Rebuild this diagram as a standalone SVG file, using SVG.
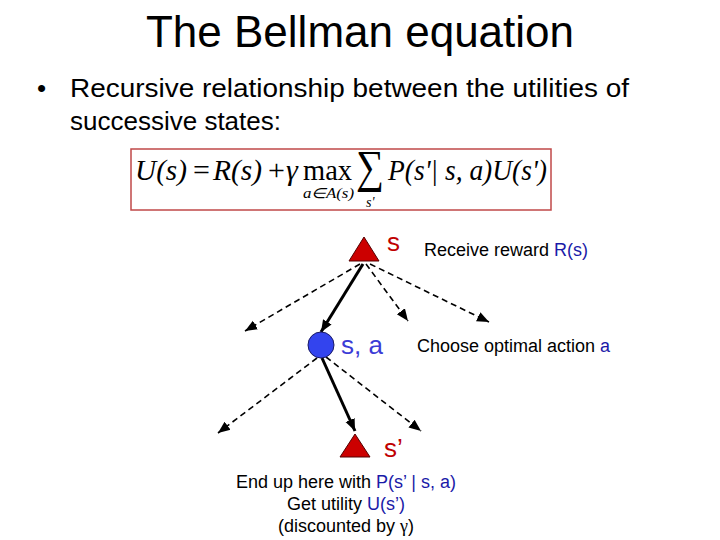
<svg xmlns="http://www.w3.org/2000/svg" width="720" height="540" viewBox="0 0 720 540">
<style>
.sans{font-family:"Liberation Sans",Arial,sans-serif}
.math{font-family:"Liberation Serif","Times New Roman",serif;font-style:italic}
.up{font-style:normal}
.blk{fill:#000}
.blu{fill:#1a1aa8}
.lblu{fill:#3b3bd6}
.red{fill:#c00000}
.dash{stroke:#000;stroke-width:1.6;stroke-dasharray:6,4;fill:none}
.solid{stroke:#000;stroke-width:3;fill:none}
.tri{fill:#cc0000;stroke:#550000;stroke-width:1}
</style>
<defs>
<marker id="ah" markerUnits="userSpaceOnUse" markerWidth="14" markerHeight="12" refX="12" refY="5" orient="auto" viewBox="0 0 14 10">
<path d="M0,0 L12,5 L0,10 Z" fill="#000"/>
</marker>
</defs>
<rect width="720" height="540" fill="#fff"/>

<g id="title">
<text class="sans blk" x="360" y="47" font-size="44" text-anchor="middle">The Bellman equation</text>
</g>
<g id="bullet">
<text class="sans blk" x="37" y="97" font-size="26">•</text>
<text class="sans blk" x="70" y="97" font-size="26" textLength="559" lengthAdjust="spacingAndGlyphs">Recursive relationship between the utilities of</text>
<text class="sans blk" x="70" y="130" font-size="26">successive states:</text>
</g>

<g id="formula">
<rect x="131" y="149" width="420" height="61" fill="#fff" stroke="#c04848" stroke-width="1.5"/>
<text class="math blk" x="135" y="180" font-size="30" textLength="52" lengthAdjust="spacingAndGlyphs">U(s)</text>
<text class="math up blk" x="193" y="180" font-size="30">=</text>
<text class="math blk" x="213" y="180" font-size="30" textLength="49" lengthAdjust="spacingAndGlyphs">R(s)</text>
<text class="math up blk" x="268" y="180" font-size="30">+</text>
<text class="math blk" x="286" y="180" font-size="30">γ</text>
<text class="math up blk" x="303" y="180" font-size="30" textLength="49" lengthAdjust="spacingAndGlyphs">max</text>
<text class="math blk" x="303" y="198" font-size="14" textLength="51" lengthAdjust="spacingAndGlyphs">a∈A(s)</text>
<text class="math up blk" x="356" y="182" font-size="46" textLength="28" lengthAdjust="spacingAndGlyphs">∑</text>
<text class="math blk" x="366" y="207" font-size="14">s'</text>
<text class="math blk" x="388" y="180" font-size="30" textLength="159" lengthAdjust="spacingAndGlyphs">P(s'| s, a)U(s')</text>
</g>

<g id="connectors">
<line class="dash" x1="360" y1="264" x2="245" y2="331" marker-end="url(#ah)"/>
<line class="dash" x1="366" y1="264" x2="408" y2="321" marker-end="url(#ah)"/>
<line class="dash" x1="370" y1="264" x2="489" y2="322" marker-end="url(#ah)"/>
<line class="solid" x1="363" y1="264" x2="321" y2="332" marker-end="url(#ah)"/>
<line class="dash" x1="317" y1="358" x2="218" y2="433" marker-end="url(#ah)"/>
<line class="dash" x1="326" y1="357" x2="421" y2="431" marker-end="url(#ah)"/>
<line class="solid" x1="322" y1="358" x2="355" y2="431" marker-end="url(#ah)"/>
</g>

<g id="node-s">
<polygon class="tri" points="364,237 349,261 379,261"/>
<text class="sans red" x="387" y="251" font-size="26">s</text>
</g>
<g id="node-sa">
<circle cx="321" cy="345" r="13" fill="#3344ee" stroke="#1a1a66" stroke-width="1"/>
<text class="sans lblu" x="341" y="354" font-size="26">s, a</text>
</g>
<g id="node-s2">
<polygon class="tri" points="355,434 340,457 370,457"/>
<text class="sans red" x="384" y="457" font-size="26">s’</text>
</g>

<g id="labels">
<text class="sans blk" x="424" y="256" font-size="18">Receive reward <tspan class="blu">R(s)</tspan></text>
<text class="sans blk" x="417" y="352" font-size="18">Choose optimal action <tspan class="blu">a</tspan></text>
<text class="sans blk" x="346" y="488" font-size="18" text-anchor="middle">End up here with <tspan class="blu">P(s’ | s, a)</tspan></text>
<text class="sans blk" x="346" y="510" font-size="18" text-anchor="middle">Get utility <tspan class="blu">U(s’)</tspan></text>
<text class="sans blk" x="346" y="532" font-size="18" text-anchor="middle">(discounted by <tspan font-family="Liberation Serif,serif">γ</tspan>)</text>
</g>
</svg>
